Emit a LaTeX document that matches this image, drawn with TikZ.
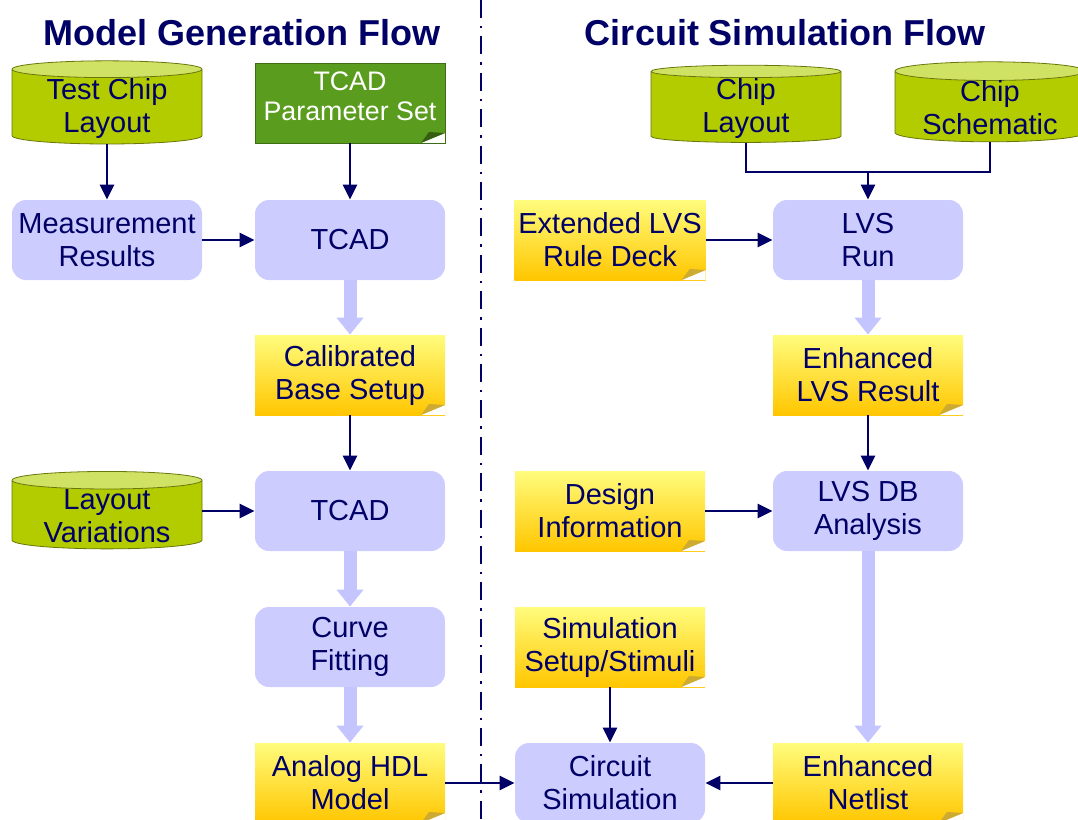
\documentclass[tikz,border=0pt]{standalone}
\usepackage{fontspec}
\setmainfont{Liberation Sans}
\usetikzlibrary{arrows.meta,shapes.geometric,positioning}

\definecolor{flownavy}{RGB}{0,0,102}
\definecolor{procblue}{RGB}{204,204,255}
\definecolor{fatblue}{RGB}{196,196,255}
\definecolor{dbbody}{RGB}{179,204,0}
\definecolor{dbtop}{RGB}{208,226,100}
\definecolor{dbline}{RGB}{105,118,10}
\definecolor{paramgreen}{RGB}{90,156,30}
\definecolor{notetop}{RGB}{255,252,125}
\definecolor{notebot}{RGB}{255,198,0}
\definecolor{notefold}{RGB}{205,170,50}

\newcommand{\flowfont}{\fontsize{14.5}{16.5}\selectfont}

\tikzset{
	proc/.style={rectangle, rounded corners=7pt, fill=procblue, minimum width=95pt, minimum height=40pt, inner sep=2pt, text=flownavy, align=center, font=\flowfont},
	db/.style={cylinder, shape border rotate=90, aspect=0.13, cylinder uses custom fill, cylinder body fill=dbbody, cylinder end fill=dbtop, draw=dbline, line width=0.4pt, minimum width=95pt, inner xsep=2pt, inner ysep=0pt, text=flownavy, align=center, font=\flowfont},
	fold/.style={path picture={
		\fill[white] ([xshift=-12pt]path picture bounding box.south east) -- (path picture bounding box.south east) -- ([yshift=5pt]path picture bounding box.south east) -- cycle;
		\fill[#1] ([xshift=-12pt]path picture bounding box.south east) -- ([yshift=5pt]path picture bounding box.south east) -- ([xshift=-8pt,yshift=5.5pt]path picture bounding box.south east) -- cycle;
	}},
	note/.style={rectangle, top color=notetop, bottom color=notebot, fold=notefold, minimum width=95pt, minimum height=40pt, inner sep=2pt, text=flownavy, align=center, font=\flowfont},
	param/.style={rectangle, fill=paramgreen, draw=paramgreen!70!black, fold=paramgreen!60!black, minimum width=95pt, minimum height=40pt, inner sep=2pt, text depth=6.5pt, text=white, align=center, font=\fontsize{13.4}{15}\selectfont},
	arr/.style={draw=flownavy, line width=1.4pt, -{Triangle[width=7pt,length=7.5pt]}},
	fat/.style={draw=fatblue, line width=6.5pt, -{Triangle[width=13pt,length=8.5pt]}},
	title/.style={text=flownavy, font=\fontsize{18}{20}\selectfont\bfseries},
}

\begin{document}
\begin{tikzpicture}[x=0.5pt, y=-0.5pt]
	\useasboundingbox (0,0) rectangle (1078,820);

	% headings and the split between the two flows
	\node[title] (modeltitle) at (242,33) {Model Generation Flow};
	\node[title] (circtitle) at (785,33) {Circuit Simulation Flow};
	\draw[flownavy, line width=0.9pt, dash pattern=on 9pt off 4pt on 1.2pt off 4pt] (481,0) -- (481,820);

	% model generation flow
	\node[db] (testchip) at (107,108) {Test Chip\\Layout};
	\node[param] (tcadparam) at (350,103) {TCAD\\Parameter Set};
	\node[proc] (measure) at (107,240) {Measurement\\Results};
	\node[proc] (tcadA) at (350,240) {TCAD};
	\node[note] (calib) at (350,375) {Calibrated\\Base Setup};
	\node[db] (layoutvar) at (107,516) {Layout\\Variations};
	\node[proc] (tcadB) at (350,511) {TCAD};
	\node[proc] (fitting) at (350,647) {Curve\\Fitting};
	\node[note] (hdl) at (350,783) {Analog HDL\\Model};

	\draw[arr] (testchip) -- (measure);
	\draw[arr] (tcadparam) -- (tcadA);
	\draw[arr] (measure) -- (tcadA);
	\draw[fat] (tcadA) -- (calib);
	\draw[arr] (calib) -- (tcadB);
	\draw[arr] (layoutvar.east |- tcadB) -- (tcadB);
	\draw[fat] (tcadB) -- (fitting);
	\draw[fat] (fitting) -- (hdl);

	% circuit simulation flow
	\node[db] (chiplayout) at (746,108) {Chip\\Layout};
	\node[db] (chipschem) at (990,108) {Chip\\Schematic};
	\node[note] (lvsdeck) at (610,240) {Extended LVS\\Rule Deck};
	\node[proc] (lvsrun) at (868,240) {LVS\\Run};
	\node[note] (lvsresult) at (868,375) {Enhanced\\LVS Result};
	\node[note] (designinfo) at (610,511) {Design\\Information};
	\node[proc] (lvsdb) at (868,511) {LVS DB\\Analysis};
	\node[note] (stimuli) at (610,647) {Simulation\\Setup/Stimuli};
	\node[proc] (circsim) at (610,783) {Circuit\\Simulation};
	\node[note] (netlist) at (868,783) {Enhanced\\Netlist};

	\coordinate (join) at (868,172);
	\draw[flownavy, line width=1.4pt] (chiplayout.south) |- (join) -| (chipschem.south);
	\draw[arr] (join) -- (lvsrun);
	\draw[arr] (lvsdeck) -- (lvsrun);
	\draw[fat] (lvsrun) -- (lvsresult);
	\draw[arr] (lvsresult) -- (lvsdb);
	\draw[arr] (designinfo) -- (lvsdb);
	\draw[fat] (lvsdb) -- (netlist);
	\draw[arr] (stimuli) -- (circsim);
	\draw[arr] (hdl) -- (circsim);
	\draw[arr] (netlist) -- (circsim);
\end{tikzpicture}
\end{document}
